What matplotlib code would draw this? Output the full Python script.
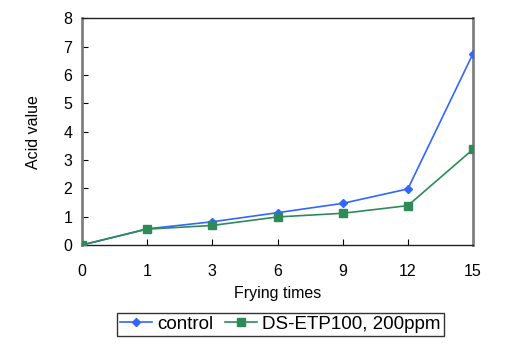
import matplotlib
matplotlib.use("Agg")
import matplotlib.pyplot as plt

categories = ["0", "1", "3", "6", "9", "12", "15"]
control = [0.0, 0.57, 0.82, 1.14, 1.47, 1.98, 6.76]
ds_etp = [0.0, 0.56, 0.69, 0.99, 1.12, 1.39, 3.38]
yticks = [0, 1, 2, 3, 4, 5, 6, 7, 8]

plt.rcParams['font.family'] = ['Liberation Sans', 'DejaVu Sans']

fig = plt.figure(figsize=(5.3, 3.47), dpi=100)
ax = fig.add_axes([0.1547, 0.294, 0.7378, 0.6527])
x = list(range(len(categories)))
ax.plot(x, control, color="#3366ff", marker="D", markersize=4, lw=1.2, label="control", zorder=3)
ax.plot(x, ds_etp, color="#2e8b57", marker="s", markersize=6, lw=1.2, label="DS-ETP100, 200ppm", zorder=3)

ax.set_xlim(0, len(categories) - 1)
ax.set_ylim(0, 8)
ax.set_xticks(x)
ax.set_xticklabels(categories)
ax.set_yticks(yticks)
ax.tick_params(axis="both", direction="in", length=4, labelsize=11.5, colors="black")
ax.tick_params(axis="x", pad=14)
ax.tick_params(axis="y", pad=7)
ax.set_xlabel("Frying times", fontsize=11.5, labelpad=5)
ax.set_ylabel("Acid value", fontsize=11.5, labelpad=16)
for s in ["left", "right"]:
    ax.spines[s].set_color("#808080")
    ax.spines[s].set_linewidth(2)
for s in ["top", "bottom"]:
    ax.spines[s].set_color("#222222")
    ax.spines[s].set_linewidth(1)

leg = fig.legend(loc="center", bbox_to_anchor=(0.529, 0.065), ncol=2, fontsize=13.5,
                 frameon=True, fancybox=False, edgecolor="black", handlelength=1.7,
                 handletextpad=0.3, columnspacing=0.6, borderpad=0.15, borderaxespad=0)
leg.get_frame().set_linewidth(1)
fig.savefig("out.png", dpi=100)
